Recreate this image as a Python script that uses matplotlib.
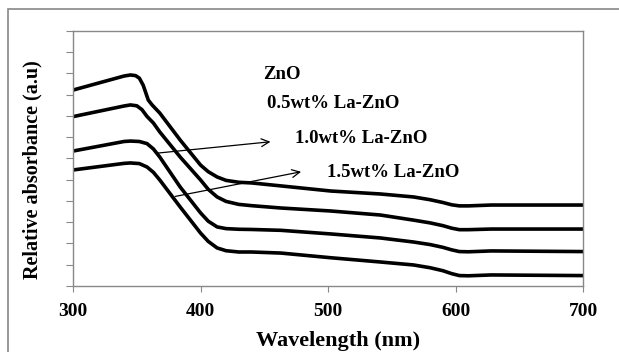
import matplotlib.pyplot as plt
from matplotlib.patches import Rectangle

plt.rcParams['font.family'] = ['Liberation Serif', 'DejaVu Serif']
plt.rcParams['font.weight'] = 'bold'

# values (relative absorbance, arbitrary 0-12 scale)
wl_zno = [300, 340, 345, 349, 352, 355, 357, 359, 362, 368, 384, 400, 406, 413, 420, 430, 440, 463, 502, 541, 567, 580, 590, 597, 603, 610, 628, 700]
ab_zno = [9.22, 9.88, 9.93, 9.9, 9.78, 9.45, 9.1, 8.75, 8.52, 8.14, 6.87, 5.69, 5.38, 5.13, 4.97, 4.88, 4.85, 4.71, 4.47, 4.33, 4.19, 4.06, 3.93, 3.82, 3.77, 3.77, 3.81, 3.81]

wl_05 = [300, 340, 345, 350, 354, 358, 363, 368, 384, 400, 406, 413, 420, 430, 440, 463, 502, 541, 567, 580, 590, 597, 603, 610, 628, 700]
ab_05 = [7.97, 8.47, 8.52, 8.48, 8.3, 7.98, 7.67, 7.25, 6.07, 4.99, 4.55, 4.19, 3.98, 3.84, 3.78, 3.67, 3.53, 3.34, 3.10, 2.97, 2.84, 2.72, 2.65, 2.65, 2.68, 2.68]

wl_10 = [300, 340, 345, 352, 358, 363, 368, 384, 400, 406, 413, 420, 430, 440, 463, 502, 541, 567, 580, 590, 597, 603, 610, 628, 700]
ab_10 = [6.35, 6.8, 6.82, 6.8, 6.7, 6.45, 6.07, 4.66, 3.44, 3.05, 2.78, 2.7, 2.67, 2.66, 2.62, 2.45, 2.26, 2.07, 1.95, 1.82, 1.7, 1.62, 1.61, 1.65, 1.62]

wl_15 = [300, 340, 345, 352, 358, 363, 368, 384, 400, 406, 413, 420, 430, 440, 463, 502, 541, 567, 580, 590, 597, 603, 610, 628, 700]
ab_15 = [5.46, 5.77, 5.79, 5.76, 5.6, 5.35, 4.99, 3.72, 2.49, 2.1, 1.79, 1.66, 1.6, 1.6, 1.55, 1.33, 1.13, 0.99, 0.86, 0.72, 0.58, 0.49, 0.48, 0.52, 0.49]

labels = ['ZnO', '0.5wt% La-ZnO', '1.0wt% La-ZnO', '1.5wt% La-ZnO']
xticks = [300, 400, 500, 600, 700]

fig = plt.figure(figsize=(6.19, 3.52), dpi=100)
ax = fig.add_axes([0.118, 0.1875, 0.824, 0.7245])

for wl, ab in [(wl_zno, ab_zno), (wl_05, ab_05), (wl_10, ab_10), (wl_15, ab_15)]:
    ax.plot(wl, ab, color='black', lw=2.6, solid_joinstyle='round', solid_capstyle='butt')

ax.set_xlim(300, 700)
ax.set_ylim(0, 12)
ax.set_xticks(xticks)
ax.set_yticks(range(13))
ax.set_yticklabels([])
ax.tick_params(axis='x', direction='out', length=4, color='#888888', labelsize=14, pad=8)
ax.tick_params(axis='y', direction='out', length=5, color='#888888')
for t in ax.get_xticklabels():
    t.set_fontweight('bold')
for s in ax.spines.values():
    s.set_color('#888888')
    s.set_linewidth(1.0)

ax.set_ylabel('Relative absorbance (a.u)', fontsize=14.5, fontweight='bold')
ax.yaxis.set_label_coords(-0.06, 0.455)
ax.set_xlabel('Wavelength (nm)', fontsize=16, fontweight='bold')
ax.xaxis.set_label_coords(0.52, -0.175)

# curve labels
ax.text(449, 9.93, labels[0], fontsize=13.5, fontweight='bold', va='center')
ax.text(452, 8.6, labels[1], fontsize=13.5, fontweight='bold', va='center')
ax.text(474, 6.95, labels[2], fontsize=13.5, fontweight='bold', va='center')
ax.text(499, 5.35, labels[3], fontsize=13.5, fontweight='bold', va='center')

ax.annotate('', xy=(457, 6.8), xytext=(364, 6.24),
            arrowprops=dict(arrowstyle='->', lw=0.9, color='black', mutation_scale=14))
ax.annotate('', xy=(481, 5.4), xytext=(378, 4.19),
            arrowprops=dict(arrowstyle='->', lw=0.9, color='black', mutation_scale=14))

# outer frame
fig.patches.append(Rectangle((8 / 619, -0.1), 1.0, 1.1 - 9 / 352, transform=fig.transFigure,
                             fill=False, edgecolor='#888888', lw=1.2))

fig.savefig('out.png', dpi=100)
